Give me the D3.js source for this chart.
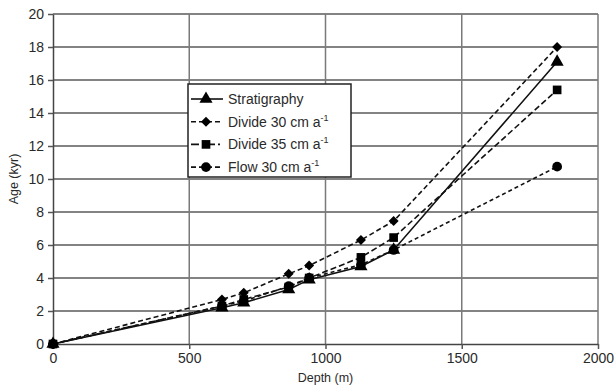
<!DOCTYPE html>
<html>
<head>
<meta charset="utf-8">
<script src="https://cdn.jsdelivr.net/npm/d3@7"></script>
<style>
  body { margin: 0; background: #fff; }
  text { font-family: "Liberation Sans", Arial, sans-serif; fill: #2a2a2a; }
</style>
</head>
<body>
<svg id="chart" width="615" height="387"></svg>
<script>
// depth (m) of each sample
var depths = [0, 620, 700, 865, 940, 1130, 1250, 1850]

var stratigraphy = [0, 2.2, 2.5, 3.3, 3.9, 4.7, 5.7, 17.1]
var divide30 = [0, 2.7, 3.1, 4.25, 4.75, 6.3, 7.45, 18.0]
var divide35 = [0, 2.3, 2.7, 3.45, 4.0, 5.25, 6.45, 15.4]
var flow30 = [0, 2.3, 2.6, 3.5, 4.0, 4.8, 5.7, 10.75]

var xTicks = [0, 500, 1000, 1500, 2000]
var yTicks = [0, 2, 4, 6, 8, 10, 12, 14, 16, 18, 20]

var series = [
    {name: "Stratigraphy", values: stratigraphy, symbol: d3.symbolTriangle, size: 75, dash: null, legendDash: null},
    {name: "Divide 30 cm a", values: divide30, symbol: d3.symbolSquare, size: 50, dash: "5,3", legendDash: "5,3", rotate: true},
    {name: "Divide 35 cm a", values: divide35, symbol: d3.symbolSquare, size: 75, dash: "6,3", legendDash: "8,3,2,3"},
    {name: "Flow 30 cm a", values: flow30, symbol: d3.symbolCircle, size: 75, dash: "4,3", legendDash: "5,3"}
]

var dimensions = {
    width: 615,
    height: 387,
    margin: {top: 14, bottom: 43, right: 17, left: 53}
}
dimensions.boundedWidth = dimensions.width - dimensions.margin.left - dimensions.margin.right
dimensions.boundedHeight = dimensions.height - dimensions.margin.top - dimensions.margin.bottom

var svg = d3.select("#chart")
var g = svg.append("g")
    .attr("transform", "translate(" + dimensions.margin.left + "," + dimensions.margin.top + ")")

var xScale = d3.scaleLinear().domain([0, 2000]).range([0, dimensions.boundedWidth])
var yScale = d3.scaleLinear().domain([0, 20]).range([dimensions.boundedHeight, 0])

// gridlines
g.append("g").selectAll("line").data(yTicks.slice(1)).enter().append("line")
    .attr("x1", 0).attr("x2", dimensions.boundedWidth)
    .attr("y1", d => yScale(d)).attr("y2", d => yScale(d))
    .attr("stroke", "#5a5a5a").attr("stroke-width", 1.5)

g.append("g").selectAll("line").data(xTicks.slice(1)).enter().append("line")
    .attr("x1", d => xScale(d)).attr("x2", d => xScale(d))
    .attr("y1", 0).attr("y2", dimensions.boundedHeight)
    .attr("stroke", "#7a7a7a").attr("stroke-width", 1.5)

// axes
var xAxis = g.append("g")
    .attr("transform", "translate(0," + dimensions.boundedHeight + ")")
    .call(d3.axisBottom(xScale).tickValues(xTicks).tickFormat(d3.format("d")).tickSize(5).tickPadding(4).tickSizeOuter(0))
var yAxis = g.append("g")
    .call(d3.axisLeft(yScale).tickValues(yTicks).tickFormat(d3.format("d")).tickSize(5).tickPadding(4).tickSizeOuter(0))

svg.selectAll(".tick text").style("font-size", "14px").attr("fill", "#2a2a2a")
svg.selectAll(".tick line").attr("stroke", "#555").attr("stroke-width", 1.5)
svg.selectAll(".domain").attr("stroke", "#444").attr("stroke-width", 1.5)

// axis labels
svg.append("text")
    .attr("x", dimensions.margin.left + dimensions.boundedWidth / 2)
    .attr("y", 382)
    .style("text-anchor", "middle")
    .style("font-size", "12.5px")
    .text("Depth (m)")

svg.append("text")
    .attr("transform", "rotate(-90)")
    .attr("x", -(dimensions.margin.top + dimensions.boundedHeight / 2))
    .attr("y", 18)
    .style("text-anchor", "middle")
    .style("font-size", "12.5px")
    .text("Age (kyr)")

// lines and markers
var line = d3.line()
    .x((d, i) => xScale(depths[i]))
    .y(d => yScale(d))

series.slice().reverse().forEach(function (s) {
    g.append("path")
        .datum(s.values)
        .attr("d", line)
        .attr("fill", "none")
        .attr("stroke", "#111")
        .attr("stroke-width", 1.6)
        .attr("stroke-dasharray", s.dash)
})

function markerTransform(s, x, y) {
    return "translate(" + x + "," + y + ")" + (s.rotate ? " rotate(45)" : "")
}

series.forEach(function (s) {
    g.append("g").selectAll("path").data(s.values).enter().append("path")
        .attr("d", d3.symbol().type(s.symbol).size(s.size))
        .attr("transform", (d, i) => markerTransform(s, xScale(depths[i]), yScale(d)))
        .attr("fill", "#000")
})

// legend
var legend = svg.append("g").attr("transform", "translate(188,84)")
legend.append("rect")
    .attr("width", 163).attr("height", 93)
    .attr("fill", "#fff").attr("stroke", "#222").attr("stroke-width", 1.5)

series.forEach(function (s, i) {
    var row = legend.append("g").attr("transform", "translate(0," + (15 + i * 22.7) + ")")
    row.append("line")
        .attr("x1", 3).attr("x2", 35)
        .attr("stroke", "#111").attr("stroke-width", 1.6)
        .attr("stroke-dasharray", s.legendDash)
    row.append("path")
        .attr("d", d3.symbol().type(s.symbol).size(s.size))
        .attr("transform", markerTransform(s, 18, 0))
        .attr("fill", "#000")
    var t = row.append("text")
        .attr("x", 40).attr("y", 5)
        .style("font-size", "14px")
        .text(s.name)
    if (i > 0) {
        t.append("tspan").attr("dy", -6).style("font-size", "9px").text("-1")
    }
})
</script>
</body>
</html>
